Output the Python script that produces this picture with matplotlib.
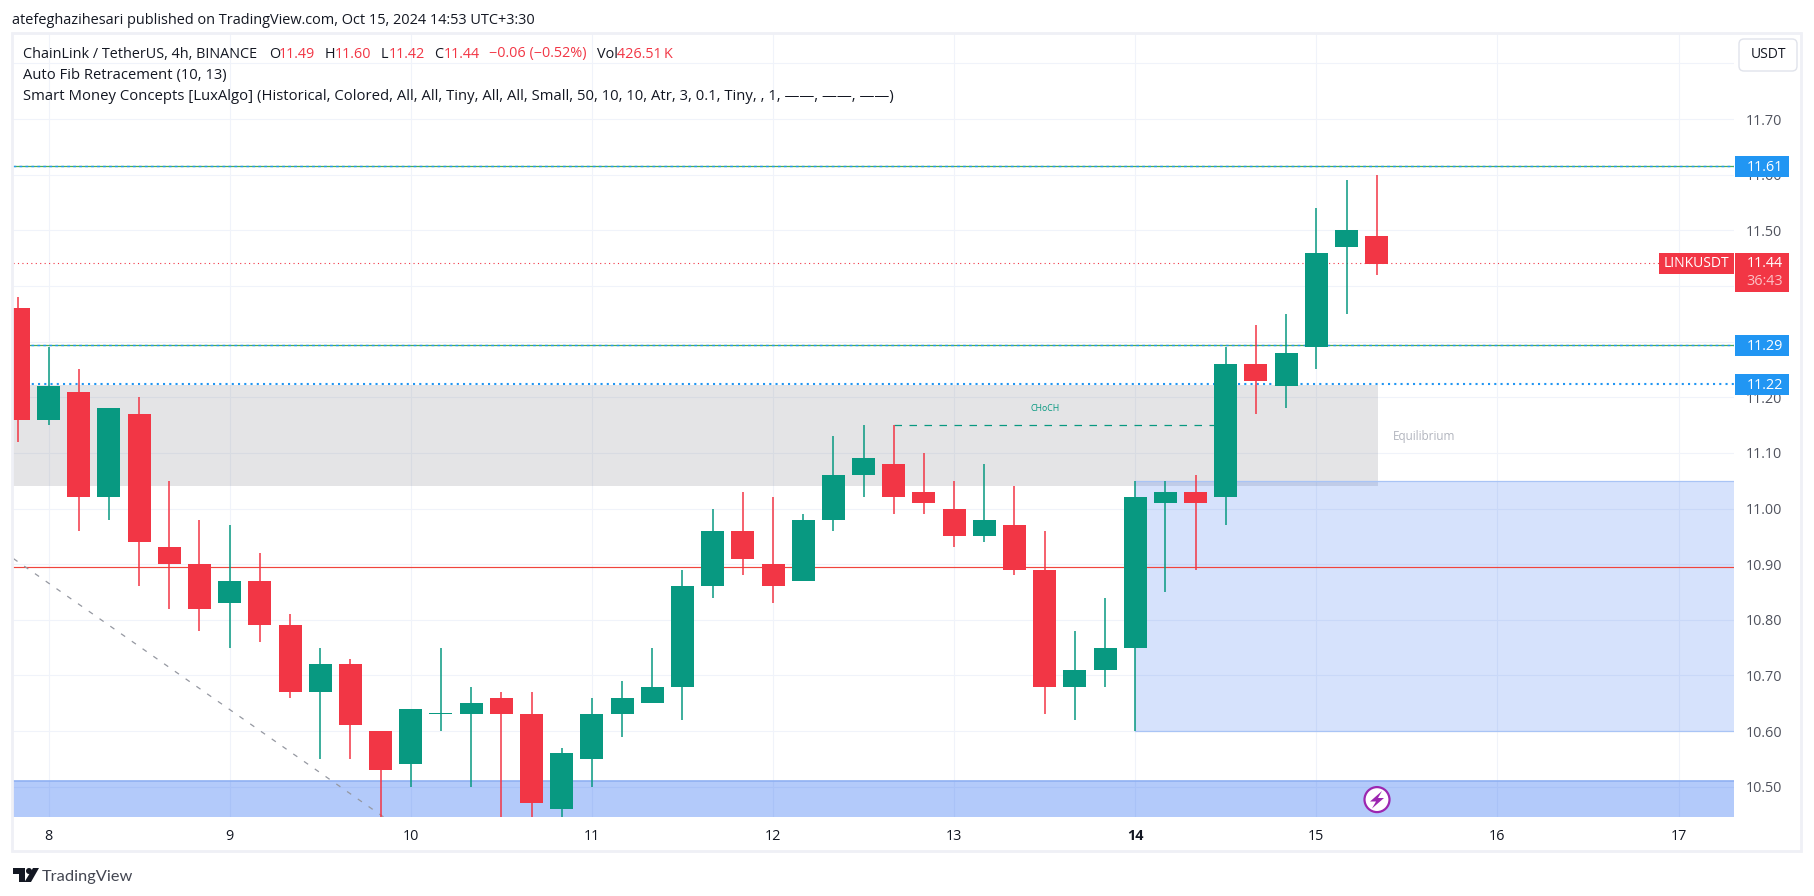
import numpy as np
import matplotlib
matplotlib.use("Agg")
import matplotlib.pyplot as plt
from matplotlib.patches import Rectangle, FancyBboxPatch, Polygon, Circle

W, H = 1814, 896
UP, DOWN = "#089981", "#F23645"
BLUE = "#2196F3"
TEXT = "#131722"
AXTXT = "#50535E"
GRID = "#F0F3FA"
FONT = "Open Sans"
plt.rcParams["font.family"] = [FONT, "DejaVu Sans"]

first_day = 7.8333
bars_per_day = 6
opens  = [11.36,11.16,11.21,11.02,11.17,10.93,10.90,10.83,10.87,10.79,10.67,10.72,10.60,10.54,10.63,10.63,10.66,10.63,10.46,10.55,
          10.63,10.65,10.68,10.86,10.96,10.90,10.87,10.98,11.06,11.08,11.03,11.00,10.95,10.97,10.89,10.68,10.71,10.75,11.01,11.03,
          11.02,11.26,11.22,11.29,11.47,11.49]
highs  = [11.38,11.29,11.25,11.18,11.20,11.05,10.98,10.97,10.92,10.81,10.75,10.73,10.60,10.64,10.75,10.68,10.67,10.67,10.57,10.66,
          10.69,10.75,10.89,11.00,11.03,11.02,10.99,11.13,11.15,11.15,11.10,11.05,11.08,11.04,10.96,10.78,10.84,11.05,11.05,11.06,
          11.29,11.33,11.35,11.54,11.59,11.60]
lows   = [11.12,11.15,10.96,10.98,10.86,10.82,10.78,10.75,10.76,10.66,10.55,10.55,10.42,10.50,10.60,10.50,10.42,10.42,10.42,10.50,
          10.59,10.65,10.62,10.84,10.88,10.83,10.87,10.96,11.02,10.99,10.99,10.93,10.94,10.88,10.63,10.62,10.68,10.60,10.85,10.89,
          10.97,11.17,11.18,11.25,11.35,11.42]
closes = [11.16,11.22,11.02,11.18,10.94,10.90,10.82,10.87,10.79,10.67,10.72,10.61,10.53,10.64,10.63,10.65,10.63,10.47,10.56,10.63,
          10.66,10.68,10.86,10.96,10.91,10.86,10.98,11.06,11.09,11.02,11.01,10.95,10.98,10.89,10.68,10.71,10.75,11.02,11.03,11.01,
          11.26,11.23,11.28,11.46,11.50,11.44]

price_ticks = [11.80,11.70,11.60,11.50,11.40,11.30,11.20,11.10,11.00,10.90,10.80,10.70,10.60,10.50]
price_labels = ["", "11.70", "11.60", "11.50", "11.40", "11.30", "11.20", "11.10", "11.00", "10.90", "10.80", "10.70", "10.60", "10.50"]
day_ticks = [8, 9, 10, 11, 12, 13, 14, 15, 16, 17]
level_high, level_mid, level_low = 11.615, 11.294, 11.224
level_red, level_last = 10.894, 11.441
gray_zone = (11.04, 11.222)
light_zone = (10.60, 11.05)
strong_zone = (10.40, 10.51)
choch_level = 11.15

fig = plt.figure(figsize=(W/100, H/100), dpi=100, facecolor="white")
L, R, T, B = 12.7, 1734, 34, 817
ax = fig.add_axes([L/W, 1-B/H, (R-L)/W, (B-T)/H], facecolor="white")
ax.set_xlim(7.802, 17.306)
ax.set_ylim(10.4455, 11.853)
for s in ax.spines.values():
    s.set_visible(False)
ax.set_axisbelow(True)
ax.grid(True, color=GRID, lw=0.8)
ax.yaxis.tick_right()
ax.set_yticks(price_ticks, price_labels)
ax.set_xticks(day_ticks, [str(d) for d in day_ticks])
ax.tick_params(axis="y", length=0, pad=8.5, labelsize=10.4, labelcolor=AXTXT)
ax.tick_params(axis="x", length=0, pad=9, labelsize=10.4, labelcolor=TEXT)
for lab in ax.get_xticklabels():
    if lab.get_text() == "14":
        lab.set_fontweight("bold")

# zones
last_x = first_day + 45 / bars_per_day
ax.fill_between([ax.get_xlim()[0], last_x + 0.006], *gray_zone, color="#787B86", alpha=0.2, lw=0, zorder=1)
ax.axhspan(*strong_zone, color="#2164F3", alpha=0.34, lw=0, zorder=1)
ax.axhline(strong_zone[1], color="#8FB0F2", lw=1.2, zorder=1.1)
ax.fill_between([14.0, ax.get_xlim()[1]], *light_zone, color="#2164F3", alpha=0.185, lw=0, zorder=1)
ax.plot([14.0, ax.get_xlim()[1]], [light_zone[1]]*2, color="#A9C4F5", lw=0.9, zorder=1.1)
ax.plot([14.0, ax.get_xlim()[1]], [light_zone[0]]*2, color="#A9C4F5", lw=0.9, zorder=1.1)

# horizontal levels
ax.axhline(level_red, color="#F0443C", lw=0.85, zorder=1.5)
ax.axhline(level_high, color="#4CAF50", lw=0.9, zorder=1.5)
ax.axhline(level_mid, color="#4CAF50", lw=0.9, zorder=1.5)
ax.axhline(level_high, color=BLUE, lw=1.0, ls=(0, (2, 2.3)), zorder=1.6)
ax.axhline(level_mid, color=BLUE, lw=1.0, ls=(0, (2, 2.3)), zorder=1.6)
ax.axhline(level_low, color=BLUE, lw=1.5, ls=(0, (1, 2)), zorder=1.6)
ax.axhline(level_last, color=DOWN, lw=0.8, ls=(0, (1, 3)), zorder=1.6)

# dashed lines
ax.plot([7.806, 9.85], [10.91, 10.4455], color="#9598A1", lw=0.9, ls=(0, (4, 6.5)), zorder=1.7)
ax.plot([first_day + 29/bars_per_day, first_day + 40/bars_per_day], [choch_level]*2,
        color=UP, lw=0.9, ls=(0, (6, 6)), zorder=1.7)

# candles
x = first_day + np.arange(len(opens)) / bars_per_day
o, h, l, c = map(np.array, (opens, highs, lows, closes))
is_up = np.array([ci >= oi for oi, ci in zip(opens, closes)])
cols = [UP if u else DOWN for u in is_up]
ax.vlines(x, l, h, colors=cols, lw=1.1, zorder=3)
bottom = np.minimum(o, c)
height = np.maximum(np.abs(c - o), 0.0022)
ax.bar(x, height, width=0.127, bottom=bottom, color=cols, lw=0, zorder=3.1)

ax.text(13.5, 11.18, "CHoCH", color=UP, fontsize=6.3, ha="center", va="center", zorder=4)
ax.text(15.593, 11.13, "Equilibrium", color="#B2B5BE", fontsize=8.5, ha="center", va="center", zorder=4)

# overlay in pixel coordinates for chrome
ov = fig.add_axes([0, 0, 1, 1], facecolor="none")
ov.set_xlim(0, W)
ov.set_ylim(H, 0)
ov.axis("off")
ov.add_patch(Rectangle((12, 33), 1789, 818, fill=False, ec="#EFF0F6", lw=2))

def ypx(p):
    return H - ax.transData.transform((0, p))[1]

def segs(y, items, size):
    for xp, s, col in items:
        ov.text(xp, y, s, color=col, fontsize=size, va="center", ha="left")

ov.text(12, 20, "atefeghazihesari published on TradingView.com, Oct 15, 2024 14:53 UTC+3:30", color=TEXT, fontsize=10.44, va="center")
segs(54, [(23, "ChainLink / TetherUS, 4h, BINANCE", TEXT), (269, "O", TEXT), (279, "11.49", DOWN),
          (324.5, "H", TEXT), (335, "11.60", DOWN), (380.6, "L", TEXT), (388.7, "11.42", DOWN),
          (433.8, "C", TEXT), (444, "11.44", DOWN), (488.7, "\u22120.06 (\u22120.52%)", DOWN),
          (597, "Vol", TEXT), (617, "426.51\u2009K", DOWN)], 10.4)
segs(75, [(23, "Auto Fib Retracement (10, 13)", TEXT)], 10.67)
segs(97, [(23, "Smart Money Concepts [LuxAlgo] (Historical, Colored, All, All, Tiny, All, All, Small, 50, 10, 10, Atr, 3, 0.1, Tiny, , 1, \u2014\u2014, \u2014\u2014, \u2014\u2014)", TEXT)], 10.74)

# USDT button
ov.add_patch(FancyBboxPatch((1742, 42), 52, 26, boxstyle="round,pad=3,rounding_size=5", fc="white", ec="#E0E3EB", lw=1))
ov.text(1768, 54.5, "USDT", color=TEXT, fontsize=10, ha="center", va="center")

# price tags
for p, s in [(level_high, "11.61"), (level_mid, "11.29"), (level_low, "11.22")]:
    y0 = ypx(p)
    ov.add_patch(Rectangle((1735, y0 - 10), 54, 21, fc=BLUE, lw=0))
    ov.text(1783, y0 + 1.2, s, color="white", fontsize=10.4, ha="right", va="center")
y0 = ypx(level_last)
ov.add_patch(Rectangle((1735, y0 - 10.5), 54, 39, fc=DOWN, lw=0))
ov.text(1783, y0 + 0.5, "11.44", color="white", fontsize=10.4, ha="right", va="center")
ov.text(1783, y0 + 18, "36:43", color="#FBC1C6", fontsize=10.4, ha="right", va="center")
ov.add_patch(Rectangle((1659, y0 - 10.5), 75, 21, fc=DOWN, lw=0))
ov.text(1696.5, y0 + 0.5, "LINKUSDT", color="white", fontsize=10, ha="center", va="center")

# lightning marker
ov.add_patch(Circle((1377, 799.6), 12.5, fc="white", ec="#9C27B0", lw=1.6, zorder=5))
ov.add_patch(Polygon([(1382, 791), (1370, 801.5), (1376, 801.5), (1372, 808.5), (1384, 798), (1378, 798)],
                     closed=True, fc="#9C27B0", lw=0, zorder=6))

# TradingView logo
ov.add_patch(Polygon([(13, 868), (25, 868), (25, 882), (19, 882), (19, 874), (13, 874)], closed=True, fc=TEXT, lw=0))
ov.add_patch(Circle((29, 871), 3, fc=TEXT, lw=0))
ov.add_patch(Polygon([(33, 868), (39, 868), (31, 882), (24.5, 882)], closed=True, fc=TEXT, lw=0))
ov.text(42, 877, "TradingView", color="#434651", fontsize=11.8, va="center", family="Lato")

fig.savefig("out.png", dpi=100, facecolor="white")
